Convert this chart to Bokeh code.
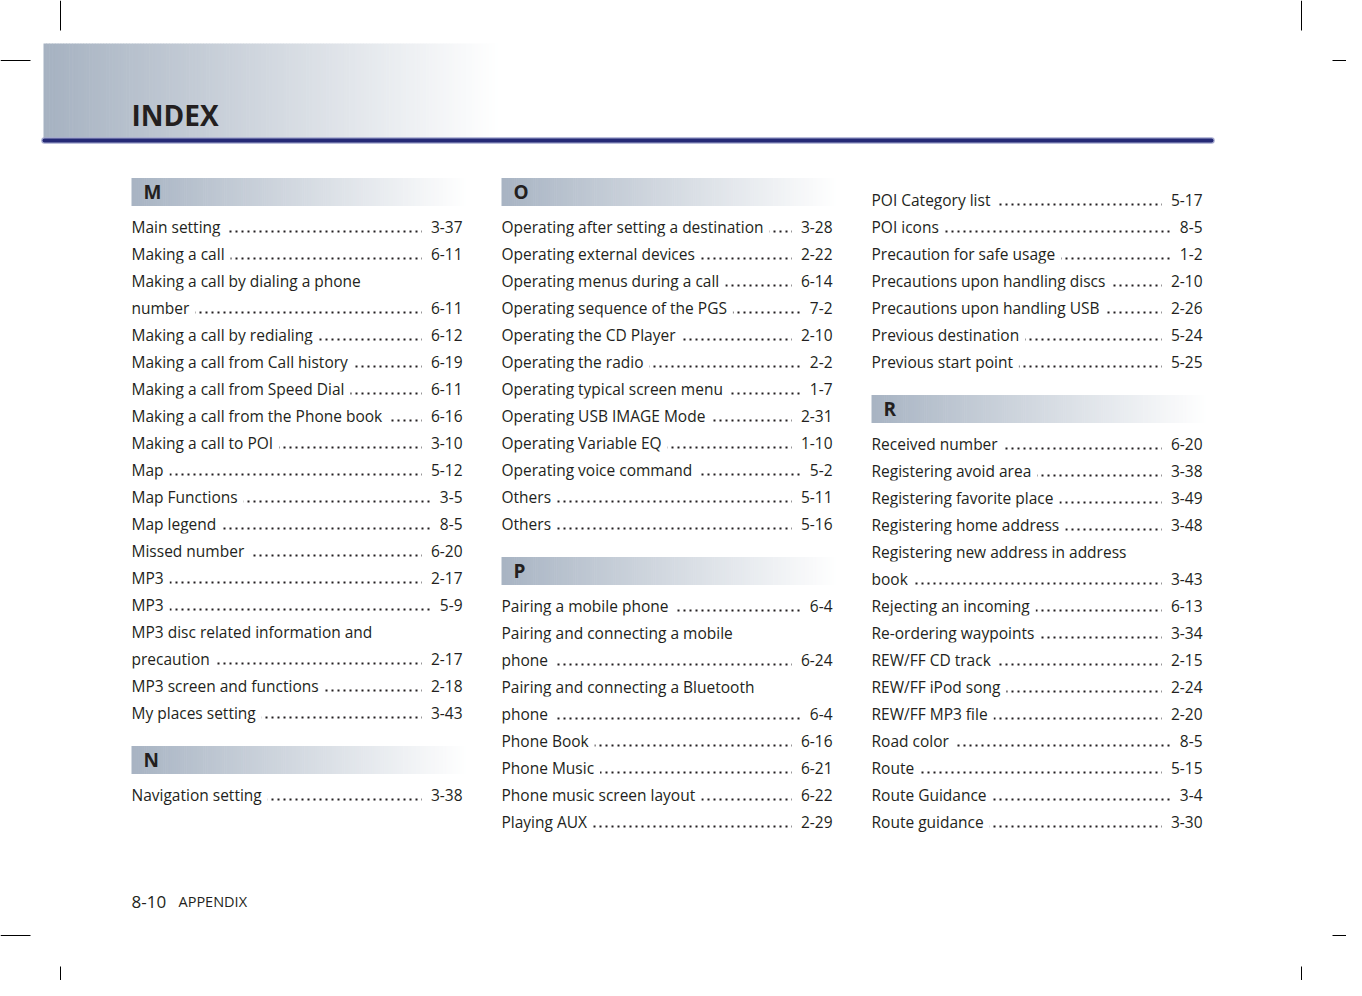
from bokeh.plotting import figure
from bokeh.models import Range1d, ColumnDataSource
from bokeh.core.properties import value
from bokeh.embed import file_html
from bokeh.resources import INLINE

# ---------------- content ----------------
TITLE = "INDEX"
FOOTER_PAGE = "8-10"
FOOTER_LABEL = "APPENDIX"

M_terms = [
    "Main setting", "Making a call", "Making a call by dialing a phone\nnumber",
    "Making a call by redialing", "Making a call from Call history",
    "Making a call from Speed Dial", "Making a call from the Phone book",
    "Making a call to POI", "Map", "Map Functions", "Map legend",
    "Missed number", "MP3", "MP3", "MP3 disc related information and\nprecaution",
    "MP3 screen and functions", "My places setting",
]
M_pages = ["3-37", "6-11", "6-11", "6-12", "6-19", "6-11", "6-16", "3-10", "5-12",
           "3-5", "8-5", "6-20", "2-17", "5-9", "2-17", "2-18", "3-43"]

N_terms = ["Navigation setting"]
N_pages = ["3-38"]

O_terms = [
    "Operating after setting a destination", "Operating external devices",
    "Operating menus during a call", "Operating sequence of the PGS",
    "Operating the CD Player", "Operating the radio", "Operating typical screen menu",
    "Operating USB IMAGE Mode", "Operating Variable EQ", "Operating voice command",
    "Others", "Others",
]
O_pages = ["3-28", "2-22", "6-14", "7-2", "2-10", "2-2", "1-7", "2-31", "1-10",
           "5-2", "5-11", "5-16"]

P_terms = [
    "Pairing a mobile phone", "Pairing and connecting a mobile\nphone",
    "Pairing and connecting a Bluetooth\nphone", "Phone Book", "Phone Music",
    "Phone music screen layout", "Playing AUX",
    "POI Category list", "POI icons", "Precaution for safe usage",
    "Precautions upon handling discs", "Precautions upon handling USB",
    "Previous destination", "Previous start point",
]
P_pages = ["6-4", "6-24", "6-4", "6-16", "6-21", "6-22", "2-29",
           "5-17", "8-5", "1-2", "2-10", "2-26", "5-24", "5-25"]

R_terms = [
    "Received number", "Registering avoid area", "Registering favorite place",
    "Registering home address", "Registering new address in address\nbook",
    "Rejecting an incoming", "Re-ordering waypoints", "REW/FF CD track",
    "REW/FF iPod song", "REW/FF MP3 file", "Road color", "Route",
    "Route Guidance", "Route guidance",
]
R_pages = ["6-20", "3-38", "3-49", "3-48", "3-43", "6-13", "3-34", "2-15",
           "2-24", "2-20", "8-5", "5-15", "3-4", "3-30"]

SECTIONS = {"M": (M_terms, M_pages), "N": (N_terms, N_pages),
            "O": (O_terms, O_pages), "P": (P_terms, P_pages),
            "R": (R_terms, R_pages)}

# column plan: (section, first, last, show header)
P_SPLIT = 7
COLUMNS = [
    [("M", 0, None, True), ("N", 0, None, True)],
    [("O", 0, None, True), ("P", 0, P_SPLIT, True)],
    [("P", P_SPLIT, None, False), ("R", 0, None, True)],
]

# ---------------- style / layout ----------------
INK = "#231f20"
FONT = value("Open Sans")
COL_X = [131, 501, 871]
COL_W = 331
BAR_W = 337
ROW = 27
HEAD_TOP = 191
CONT_TOP = 199
GAP_BEFORE_HEAD = 47
GAP_AFTER_HEAD = 35
TPAD = 6
PPAD = 9

p = figure(width=1346, height=980, x_range=Range1d(0, 1346), y_range=Range1d(980, 0),
           output_backend="svg", toolbar_location=None, min_border=0,
           x_axis_type=None, y_axis_type=None)
p.grid.visible = False
p.outline_line_color = None
p.background_fill_color = "white"
p.border_fill_color = "white"


def gradient(x0, x1, y0, y1, c0, n=160):
    lefts, rights, cols = [], [], []
    for i in range(n):
        t = i / (n - 1)
        r = int(round(c0[0] + (255 - c0[0]) * t))
        g = int(round(c0[1] + (255 - c0[1]) * t))
        b = int(round(c0[2] + (255 - c0[2]) * t))
        lefts.append(x0 + (x1 - x0) * i / n)
        rights.append(x0 + (x1 - x0) * (i + 1) / n + 0.6)
        cols.append("#%02x%02x%02x" % (r, g, b))
    p.quad(left=lefts, right=rights, top=[y0] * n, bottom=[y1] * n,
           fill_color=cols, line_color=None)


# header band
gradient(43, 500, 43, 139, (166, 178, 193))
# blue rule
p.line(x=[44, 1211], y=[140, 140], line_width=6.5, line_color="#a5a9cf", line_cap="round")
p.line(x=[44, 1211], y=[140, 140], line_width=4, line_color="#252a76", line_cap="round")
p.text(x=[131], y=[114], text=[TITLE], text_font=FONT, text_font_style="bold",
       text_font_size="28px", text_color=INK, text_baseline="middle")

# crop marks
for xs, ys in [([60, 60], [0, 30]), ([1301, 1301], [0, 30]), ([0, 30], [60, 60]),
               ([1332, 1362], [60, 60]), ([60, 60], [966, 996]),
               ([1301, 1301], [966, 996]), ([0, 30], [935, 935]),
               ([1332, 1362], [935, 935])]:
    p.line(x=xs, y=ys, line_color="black", line_width=1)

# layout entries
heads = []
rows = []
for ci, plan in enumerate(COLUMNS):
    x0 = COL_X[ci]
    y = None
    for letter, lo, hi, show in plan:
        terms, pages = SECTIONS[letter]
        if show:
            hy = HEAD_TOP if y is None else y + GAP_BEFORE_HEAD
            heads.append((x0, hy, letter))
            cy = hy + GAP_AFTER_HEAD
        else:
            cy = CONT_TOP if y is None else y + ROW
        for t, pg in zip(terms[lo:hi], pages[lo:hi]):
            lines = t.split("\n")
            for k, ln in enumerate(lines):
                last = k == len(lines) - 1
                rows.append((x0, cy, ln, pg if last else ""))
                y = cy
                cy += ROW

# section bars
for x0, hy, letter in heads:
    gradient(x0, x0 + BAR_W, hy - 13.5, hy + 14.5, (168, 180, 195))
p.text(x=[h[0] + 12 for h in heads], y=[h[1] for h in heads], text=[h[2] for h in heads],
       text_font=FONT, text_font_style="bold", text_font_size="19px", text_color=INK,
       text_baseline="middle")

# dot leaders
lead = [r for r in rows if r[3]]
for r in lead:
    p.line(x=[r[0] + 2, r[0] + COL_W - 2], y=[r[1] + 5, r[1] + 5],
           line_color=INK, line_width=1.8, line_dash="2 4")

src = ColumnDataSource(dict(x=[r[0] - TPAD for r in rows], y=[r[1] for r in rows],
                            t=[r[2] for r in rows]))
p.text(x="x", y="y", text="t", source=src, text_font=FONT, text_font_size="15.5px",
       text_color=INK, text_baseline="middle", background_fill_color="white",
       padding=TPAD)

psrc = ColumnDataSource(dict(x=[r[0] + COL_W + PPAD for r in lead], y=[r[1] for r in lead],
                             t=[r[3] for r in lead]))
p.text(x="x", y="y", text="t", source=psrc, text_font=FONT, text_font_size="15.5px",
       text_color=INK, text_baseline="middle", text_align="right",
       background_fill_color="white", padding=PPAD)

# footer
p.text(x=[131], y=[901], text=[FOOTER_PAGE], text_font=FONT, text_font_size="17px",
       text_color=INK, text_baseline="middle")
p.text(x=[178], y=[901], text=[FOOTER_LABEL], text_font=FONT, text_font_size="14.5px",
       text_color=INK, text_baseline="middle")

open("out.html", "w").write(file_html(p, INLINE))
